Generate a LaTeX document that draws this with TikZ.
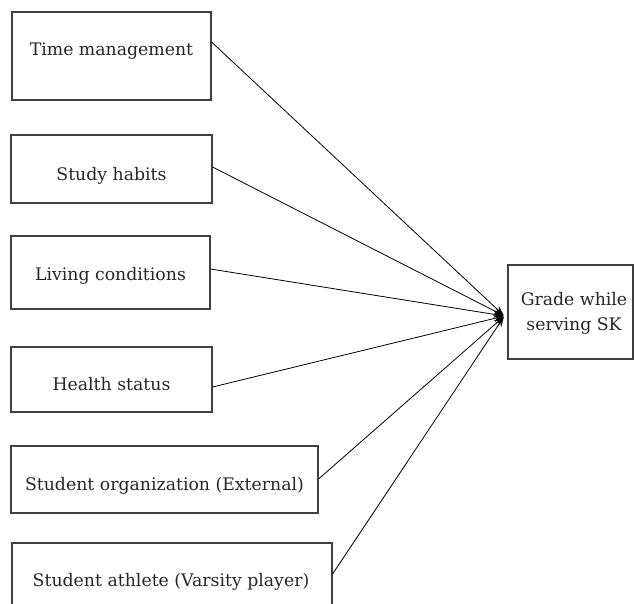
\documentclass[tikz,border=0pt]{standalone}
\usepackage{fontspec}
\setmainfont{DejaVu Serif}
\usetikzlibrary{arrows.meta,calc}
\begin{document}
\begin{tikzpicture}[x=1pt,y=-1pt,
  box/.style={draw=black!75,line width=1.1pt,inner sep=0pt},
  lbl/.style={font=\fontsize{17.3}{20}\selectfont,text=black!85,anchor=base,inner sep=0pt},
  conn/.style={line width=0.8pt,-{Stealth[length=10pt,width=7pt]},shorten >=1pt}]
\useasboundingbox (0,0) rectangle (634,603);
\clip (0,0) rectangle (634,603);
% boxes
\node[box,minimum width=199pt,minimum height=88pt] (tm) at (111.5,56) {};
\node[box,minimum width=201pt,minimum height=68pt] (sh) at (111.5,169) {};
\node[box,minimum width=199pt,minimum height=73pt] (lc) at (110.5,272.5) {};
\node[box,minimum width=201pt,minimum height=65pt] (hs) at (111.5,379.5) {};
\node[box,minimum width=307pt,minimum height=67pt] (so) at (164.5,479.5) {};
\node[box,minimum width=320pt,minimum height=80pt] (sa) at (172,583) {};
\node[box,minimum width=125pt,minimum height=94pt] (gr) at (570.5,312) {};
% labels
\node[lbl] (tmt) at (111.5,55) {Time management};
\node[lbl] (sht) at (111.5,180) {Study habits};
\node[lbl] (lct) at (110.5,280) {Living conditions};
\node[lbl] (hst) at (111.5,390) {Health status};
\node[lbl] (sot) at (164.5,490.5) {Student organization (External)};
\node[lbl] (sat) at (171,586) {Student athlete (Varsity player)};
\node[lbl] (grt1) at (574,305.5) {Grade while};
\node[lbl] (grt2) at (574,330) {serving SK};
% connector points
\coordinate (tgt) at ([xshift=-3pt,yshift=-4pt]gr.west);
\coordinate (tmo) at ([yshift=14pt]tm.east);
\coordinate (sho) at ([yshift=2pt]sh.east);
\coordinate (lco) at ([yshift=3.5pt]lc.east);
\coordinate (hso) at ([yshift=-7.5pt]hs.east);
\coordinate (soo) at ([yshift=0.5pt]so.east);
\coordinate (sao) at ([yshift=9pt]sa.east);
\draw[conn] (tmo) -- (tgt);
\draw[conn] (sho) -- (tgt);
\draw[conn] (lco) -- (tgt);
\draw[conn] (hso) -- (tgt);
\draw[conn] (soo) -- (tgt);
\draw[conn] (sao) -- (tgt);
\end{tikzpicture}
\end{document}
